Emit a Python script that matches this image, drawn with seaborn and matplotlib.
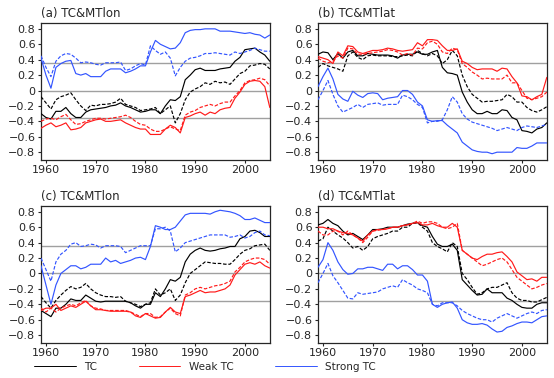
import matplotlib
matplotlib.use("agg")
import matplotlib.pyplot as plt
from matplotlib.lines import Line2D
import seaborn as sns

years = list(range(1959, 2006))

# (a) TC&MTlon
a_tc = [-0.30, -0.35, -0.37, -0.27, -0.27, -0.22, -0.30, -0.35, -0.35, -0.28, -0.25, -0.24, -0.23, -0.22, -0.20, -0.19,
        -0.16, -0.20, -0.22, -0.25, -0.28, -0.27, -0.25, -0.25, -0.30, -0.20, -0.12, -0.13, -0.08, 0.14, 0.20, 0.27,
        0.29, 0.26, 0.26, 0.26, 0.28, 0.29, 0.30, 0.38, 0.43, 0.53, 0.54, 0.55, 0.50, 0.46, 0.38]
a_tc_d = [-0.08, -0.16, -0.24, -0.12, -0.08, -0.06, -0.03, -0.12, -0.20, -0.26, -0.19, -0.20, -0.18, -0.18, -0.17, -0.15,
          -0.10, -0.18, -0.20, -0.22, -0.26, -0.25, -0.24, -0.22, -0.30, -0.25, -0.20, -0.42, -0.30, -0.12, -0.02, 0.02,
          0.05, 0.10, 0.08, 0.12, 0.10, 0.11, 0.08, 0.15, 0.22, 0.25, 0.32, 0.33, 0.35, 0.34, 0.28]
a_weak = [-0.49, -0.45, -0.42, -0.47, -0.45, -0.42, -0.51, -0.50, -0.48, -0.42, -0.40, -0.38, -0.37, -0.40, -0.40, -0.39,
          -0.38, -0.42, -0.45, -0.48, -0.50, -0.50, -0.57, -0.57, -0.57, -0.50, -0.45, -0.48, -0.55, -0.35, -0.33, -0.30,
          -0.28, -0.32, -0.28, -0.30, -0.25, -0.23, -0.22, -0.10, -0.02, 0.08, 0.12, 0.13, 0.12, 0.05, -0.22]
a_weak_d = [-0.40, -0.37, -0.36, -0.38, -0.34, -0.31, -0.38, -0.44, -0.43, -0.40, -0.38, -0.36, -0.36, -0.37, -0.36, -0.35,
            -0.34, -0.32, -0.35, -0.40, -0.44, -0.45, -0.50, -0.53, -0.53, -0.50, -0.47, -0.50, -0.52, -0.32, -0.28, -0.26,
            -0.22, -0.20, -0.18, -0.20, -0.17, -0.15, -0.15, -0.07, 0.00, 0.10, 0.13, 0.14, 0.16, 0.14, 0.06]
a_strong = [0.42, 0.20, 0.03, 0.30, 0.35, 0.38, 0.39, 0.22, 0.20, 0.22, 0.18, 0.18, 0.18, 0.25, 0.28, 0.28,
            0.28, 0.23, 0.25, 0.28, 0.32, 0.32, 0.50, 0.65, 0.60, 0.57, 0.54, 0.55, 0.62, 0.75, 0.78, 0.79,
            0.79, 0.80, 0.80, 0.80, 0.77, 0.77, 0.77, 0.76, 0.75, 0.74, 0.75, 0.73, 0.72, 0.68, 0.72]
a_strong_d = [0.45, 0.30, 0.18, 0.38, 0.45, 0.48, 0.47, 0.42, 0.36, 0.37, 0.36, 0.34, 0.33, 0.36, 0.36, 0.36,
              0.37, 0.26, 0.28, 0.32, 0.35, 0.33, 0.58, 0.52, 0.47, 0.50, 0.42, 0.19, 0.30, 0.38, 0.42, 0.43,
              0.45, 0.48, 0.48, 0.49, 0.48, 0.47, 0.46, 0.50, 0.48, 0.50, 0.52, 0.55, 0.53, 0.51, 0.51]

# (b) TC&MTlat
b_tc = [0.47, 0.50, 0.49, 0.40, 0.48, 0.42, 0.50, 0.52, 0.45, 0.45, 0.48, 0.47, 0.46, 0.46, 0.46, 0.45,
        0.42, 0.46, 0.47, 0.47, 0.50, 0.47, 0.47, 0.50, 0.52, 0.30, 0.23, 0.22, 0.20, -0.02, -0.15, -0.25,
        -0.30, -0.30, -0.27, -0.30, -0.30, -0.25, -0.26, -0.35, -0.38, -0.52, -0.53, -0.55, -0.50, -0.48, -0.42]
b_tc_d = [0.30, 0.35, 0.32, 0.30, 0.28, 0.25, 0.45, 0.50, 0.43, 0.40, 0.45, 0.46, 0.45, 0.45, 0.45, 0.44,
          0.44, 0.45, 0.46, 0.45, 0.52, 0.48, 0.45, 0.48, 0.45, 0.35, 0.40, 0.52, 0.45, 0.20, 0.05, -0.05,
          -0.10, -0.15, -0.14, -0.14, -0.13, -0.12, -0.05, -0.08, -0.15, -0.15, -0.22, -0.26, -0.28, -0.25, -0.21]
b_weak = [0.44, 0.42, 0.40, 0.35, 0.50, 0.45, 0.58, 0.57, 0.50, 0.48, 0.50, 0.52, 0.52, 0.53, 0.55, 0.54,
          0.52, 0.51, 0.52, 0.53, 0.62, 0.58, 0.66, 0.66, 0.65, 0.58, 0.52, 0.52, 0.54, 0.38, 0.35, 0.30,
          0.27, 0.28, 0.28, 0.28, 0.25, 0.29, 0.28, 0.18, 0.10, -0.07, -0.08, -0.12, -0.08, -0.05, 0.17]
b_weak_d = [0.42, 0.38, 0.36, 0.38, 0.45, 0.42, 0.55, 0.54, 0.47, 0.47, 0.48, 0.49, 0.50, 0.51, 0.53, 0.52,
            0.50, 0.46, 0.48, 0.46, 0.55, 0.54, 0.62, 0.64, 0.60, 0.50, 0.48, 0.55, 0.53, 0.35, 0.30, 0.24,
            0.20, 0.15, 0.16, 0.15, 0.15, 0.15, 0.20, 0.10, 0.10, 0.00, -0.10, -0.12, -0.10, -0.08, -0.02]
b_strong = [0.05, 0.18, 0.29, 0.15, -0.05, -0.11, -0.14, -0.01, -0.06, -0.09, -0.04, -0.03, -0.04, -0.12, -0.10, -0.09,
            -0.08, 0.00, 0.00, -0.05, -0.15, -0.20, -0.38, -0.40, -0.39, -0.39, -0.45, -0.50, -0.55, -0.67, -0.72, -0.77,
            -0.79, -0.80, -0.80, -0.82, -0.80, -0.80, -0.80, -0.80, -0.74, -0.75, -0.75, -0.72, -0.68, -0.68, -0.68]
b_strong_d = [-0.12, 0.00, 0.13, -0.05, -0.20, -0.28, -0.25, -0.22, -0.18, -0.22, -0.18, -0.17, -0.16, -0.19, -0.18, -0.18,
              -0.18, -0.06, -0.08, -0.12, -0.18, -0.22, -0.42, -0.40, -0.40, -0.38, -0.25, -0.08, -0.15, -0.30, -0.37, -0.41,
              -0.43, -0.45, -0.47, -0.49, -0.52, -0.50, -0.48, -0.50, -0.52, -0.48, -0.46, -0.47, -0.48, -0.46, -0.44]

# (c) TC&MTlon
c_tc = [-0.48, -0.52, -0.56, -0.45, -0.45, -0.40, -0.33, -0.35, -0.35, -0.28, -0.32, -0.36, -0.37, -0.36, -0.36, -0.36,
        -0.36, -0.36, -0.38, -0.42, -0.45, -0.40, -0.40, -0.25, -0.30, -0.20, -0.08, -0.10, -0.05, 0.15, 0.25, 0.30,
        0.33, 0.30, 0.29, 0.30, 0.32, 0.33, 0.35, 0.35, 0.45, 0.48, 0.55, 0.56, 0.53, 0.48, 0.48]
c_tc_d = [-0.30, -0.38, -0.45, -0.35, -0.28, -0.22, -0.17, -0.20, -0.18, -0.13, -0.20, -0.25, -0.28, -0.30, -0.30, -0.31,
          -0.30, -0.36, -0.38, -0.40, -0.43, -0.40, -0.38, -0.20, -0.28, -0.25, -0.20, -0.35, -0.28, -0.12, 0.00, 0.05,
          0.10, 0.15, 0.14, 0.13, 0.13, 0.12, 0.12, 0.18, 0.25, 0.30, 0.32, 0.36, 0.37, 0.38, 0.30]
c_weak = [-0.48, -0.45, -0.45, -0.40, -0.48, -0.45, -0.42, -0.44, -0.40, -0.36, -0.42, -0.47, -0.47, -0.48, -0.49, -0.49,
          -0.49, -0.49, -0.50, -0.55, -0.57, -0.52, -0.55, -0.58, -0.57, -0.50, -0.44, -0.50, -0.52, -0.30, -0.28, -0.25,
          -0.22, -0.25, -0.24, -0.24, -0.22, -0.20, -0.15, -0.02, 0.05, 0.12, 0.14, 0.12, 0.15, 0.10, 0.07]
c_weak_d = [-0.45, -0.50, -0.45, -0.50, -0.45, -0.42, -0.40, -0.42, -0.38, -0.35, -0.42, -0.45, -0.46, -0.48, -0.48, -0.48,
            -0.48, -0.48, -0.50, -0.53, -0.56, -0.52, -0.52, -0.57, -0.56, -0.50, -0.45, -0.52, -0.55, -0.28, -0.25, -0.20,
            -0.18, -0.20, -0.18, -0.16, -0.15, -0.13, -0.10, 0.02, 0.08, 0.15, 0.18, 0.20, 0.20, 0.18, 0.12]
c_strong = [0.10, -0.15, -0.40, -0.15, 0.00, 0.05, 0.10, 0.10, 0.06, 0.08, 0.12, 0.12, 0.12, 0.20, 0.15, 0.17,
            0.13, 0.15, 0.17, 0.20, 0.21, 0.18, 0.35, 0.62, 0.60, 0.57, 0.57, 0.60, 0.68, 0.76, 0.78, 0.78,
            0.78, 0.78, 0.77, 0.80, 0.82, 0.81, 0.80, 0.78, 0.75, 0.70, 0.70, 0.72, 0.69, 0.66, 0.66]
c_strong_d = [0.20, 0.05, -0.10, 0.15, 0.25, 0.30, 0.38, 0.40, 0.35, 0.36, 0.38, 0.37, 0.33, 0.36, 0.36, 0.36,
              0.35, 0.27, 0.30, 0.33, 0.36, 0.36, 0.36, 0.58, 0.58, 0.60, 0.55, 0.28, 0.33, 0.40, 0.42, 0.44,
              0.46, 0.48, 0.50, 0.50, 0.50, 0.50, 0.47, 0.48, 0.50, 0.46, 0.48, 0.53, 0.55, 0.50, 0.49]

# (d) TC&MTlat
d_tc = [0.63, 0.65, 0.70, 0.65, 0.62, 0.55, 0.50, 0.52, 0.48, 0.44, 0.50, 0.57, 0.57, 0.58, 0.60, 0.60,
        0.60, 0.62, 0.64, 0.65, 0.66, 0.62, 0.60, 0.48, 0.38, 0.35, 0.35, 0.38, 0.30, -0.08, -0.15, -0.22,
        -0.28, -0.27, -0.20, -0.25, -0.25, -0.25, -0.32, -0.35, -0.40, -0.44, -0.45, -0.45, -0.40, -0.38, -0.38]
d_tc_d = [0.42, 0.45, 0.60, 0.55, 0.50, 0.46, 0.40, 0.33, 0.35, 0.30, 0.35, 0.45, 0.48, 0.50, 0.52, 0.55,
          0.55, 0.60, 0.60, 0.65, 0.66, 0.60, 0.55, 0.40, 0.35, 0.32, 0.28, 0.40, 0.35, 0.00, -0.08, -0.18,
          -0.27, -0.25, -0.20, -0.18, -0.18, -0.15, -0.12, -0.25, -0.32, -0.35, -0.35, -0.37, -0.37, -0.34, -0.31]
d_weak = [0.60, 0.60, 0.58, 0.58, 0.55, 0.53, 0.52, 0.50, 0.46, 0.42, 0.50, 0.55, 0.57, 0.57, 0.58, 0.60,
          0.60, 0.62, 0.63, 0.65, 0.66, 0.63, 0.63, 0.65, 0.62, 0.60, 0.60, 0.65, 0.60, 0.30, 0.25, 0.20,
          0.18, 0.22, 0.25, 0.25, 0.27, 0.28, 0.22, 0.15, 0.02, -0.03, -0.08, -0.07, -0.10, -0.05, -0.05]
d_weak_d = [0.55, 0.50, 0.50, 0.55, 0.55, 0.50, 0.55, 0.50, 0.46, 0.40, 0.47, 0.55, 0.56, 0.57, 0.58, 0.60,
            0.60, 0.62, 0.63, 0.65, 0.68, 0.65, 0.67, 0.67, 0.65, 0.60, 0.58, 0.60, 0.65, 0.30, 0.25, 0.20,
            0.15, 0.10, 0.12, 0.15, 0.18, 0.20, 0.15, 0.05, -0.05, -0.10, -0.15, -0.20, -0.18, -0.15, -0.13]
d_strong = [0.08, 0.18, 0.40, 0.30, 0.15, 0.05, -0.01, 0.00, 0.06, 0.06, 0.08, 0.08, 0.06, 0.04, 0.12, 0.12,
            0.06, 0.10, 0.10, 0.05, -0.02, -0.02, -0.10, -0.40, -0.44, -0.40, -0.38, -0.37, -0.45, -0.60, -0.64, -0.66,
            -0.66, -0.65, -0.67, -0.72, -0.76, -0.75, -0.70, -0.68, -0.65, -0.63, -0.63, -0.64, -0.60, -0.56, -0.55]
d_strong_d = [-0.12, 0.00, 0.13, -0.03, -0.12, -0.22, -0.32, -0.33, -0.25, -0.27, -0.26, -0.25, -0.24, -0.20, -0.18, -0.16,
              -0.18, -0.08, -0.12, -0.15, -0.20, -0.22, -0.25, -0.40, -0.42, -0.38, -0.38, -0.38, -0.42, -0.48, -0.52, -0.55,
              -0.58, -0.60, -0.60, -0.63, -0.58, -0.55, -0.52, -0.55, -0.58, -0.55, -0.52, -0.50, -0.52, -0.48, -0.47]

titles = ["(a) TC&MTlon", "(b) TC&MTlat", "(c) TC&MTlon", "(d) TC&MTlat"]
panels = [
    (a_tc, a_tc_d, a_weak, a_weak_d, a_strong, a_strong_d),
    (b_tc, b_tc_d, b_weak, b_weak_d, b_strong, b_strong_d),
    (c_tc, c_tc_d, c_weak, c_weak_d, c_strong, c_strong_d),
    (d_tc, d_tc_d, d_weak, d_weak_d, d_strong, d_strong_d),
]
labels = ["TC", "Weak TC", "Strong TC"]
colors = ["black", "#ff1a1a", "#3355ff"]

sns.set_theme(style="ticks")
plt.rcParams['font.family'] = ['DejaVu Sans']

fig = plt.figure(figsize=(5.54, 3.78), dpi=100)
# axes positions: [left, bottom, width, height]
boxes = [[0.074, 0.577, 0.413, 0.363], [0.574, 0.577, 0.413, 0.363],
         [0.074, 0.093, 0.413, 0.363], [0.574, 0.093, 0.413, 0.363]]

for box, title, series in zip(boxes, titles, panels):
    ax = fig.add_axes(box)
    for yv in [0.36, 0.0, -0.36]:
        ax.axhline(yv, color="#a0a0a0", lw=1.0, zorder=1)
    for i, vals in enumerate(series):
        col = colors[i // 2]
        ls = "-" if i % 2 == 0 else (0, (3, 1.5))
        sns.lineplot(x=years, y=vals, ax=ax, color=col, linestyle=ls, lw=0.85, zorder=3)
    ax.set_xlim(1959, 2005)
    ax.set_ylim(-0.9, 0.88)
    ax.set_xticks([1960, 1970, 1980, 1990, 2000])
    ax.set_yticks([-0.8, -0.6, -0.4, -0.2, 0, 0.2, 0.4, 0.6, 0.8])
    ax.set_yticklabels(["\u22120.8", "\u22120.6", "\u22120.4", "\u22120.2", "0", "0.2", "0.4", "0.6", "0.8"])
    ax.tick_params(labelsize=8, length=2, width=0.8, direction="out", pad=2)
    for sp in ax.spines.values():
        sp.set_linewidth(0.9)
    ax.set_xlabel("")
    ax.set_ylabel("")
    ax.set_title(title, loc="left", fontsize=8.5, pad=4)

handles = [Line2D([], [], color=c, lw=0.7) for c in colors]
fig.legend(handles, labels, loc="center", bbox_to_anchor=(0.37, 0.03), ncol=3, frameon=False,
           fontsize=7.5, handlelength=4, columnspacing=4, handletextpad=0.8)

fig.savefig("out.png", dpi=100)
